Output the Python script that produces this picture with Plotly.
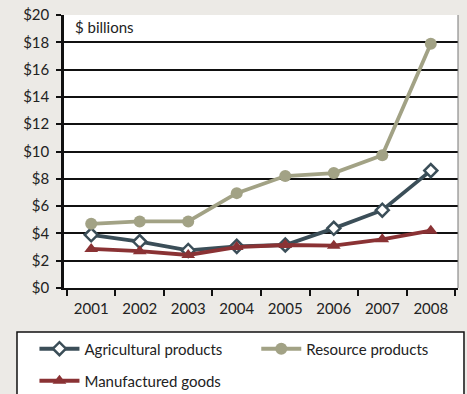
import plotly.graph_objects as go

years = ["2001", "2002", "2003", "2004", "2005", "2006", "2007", "2008"]
agricultural = [3.9, 3.4, 2.75, 3.05, 3.15, 4.37, 5.7, 8.6]
resource = [4.7, 4.88, 4.88, 6.95, 8.2, 8.42, 9.72, 17.9]
manufactured = [2.86, 2.7, 2.42, 3.0, 3.15, 3.1, 3.57, 4.2]
y_ticks = [0, 2, 4, 6, 8, 10, 12, 14, 16, 18, 20]
y_labels = ["$0", "$2", "$4", "$6", "$8", "$10", "$12", "$14", "$16", "$18", "$20"]

FONT = "Lato"
BG = "#ECEAE6"
TEXT = "#222222"

fig = go.Figure()
fig.add_trace(go.Scatter(
    x=years, y=agricultural, name="Agricultural products", mode="lines+markers",
    line=dict(color="#3B4E58", width=3.8),
    marker=dict(symbol="diamond", size=10, color="white",
                line=dict(color="#3B4E58", width=2.5)),
    legend="legend",
))
fig.add_trace(go.Scatter(
    x=years, y=resource, name="Resource products", mode="lines+markers",
    line=dict(color="#A2A285", width=3.8),
    marker=dict(symbol="circle", size=12, color="#A2A285"),
    legend="legend2",
))
fig.add_trace(go.Scatter(
    x=years, y=manufactured, name="Manufactured goods", mode="lines+markers",
    line=dict(color="#8A3234", width=3.8),
    marker=dict(symbol="triangle-up", size=12, color="#8A3234"),
    legend="legend3",
))

legend_common = dict(
    xanchor="left", yanchor="middle", bgcolor="rgba(0,0,0,0)",
    borderwidth=0, font=dict(family=FONT, size=15, color=TEXT),
    itemwidth=40,
)

fig.update_layout(
    width=467, height=394,
    margin=dict(l=64, r=9, t=15, b=106, autoexpand=False),
    paper_bgcolor=BG, plot_bgcolor="white",
    font=dict(family=FONT, size=15, color=TEXT),
    showlegend=True,
    legend=dict(x=-0.075, y=-0.2234, **legend_common),
    legend2=dict(x=0.488, y=-0.2234, **legend_common),
    legend3=dict(x=-0.075, y=-0.3407, **legend_common),
    annotations=[dict(
        text="$ billions", x=0.022, y=0.995, xref="paper", yref="paper",
        xanchor="left", yanchor="top", showarrow=False,
        font=dict(family=FONT, size=15, color=TEXT),
    )],
)

fig.update_xaxes(
    type="category", tickson="boundaries", ticks="outside", ticklen=6,
    tickwidth=2, tickcolor="#111111", ticklabelstandoff=6,
    showline=True, linecolor="#111111", linewidth=2,
    showgrid=False, mirror=False,
)
fig.update_yaxes(
    range=[0, 20], tickvals=y_ticks, ticktext=y_labels,
    ticks="outside", ticklen=5, tickwidth=2, tickcolor="#111111",
    ticklabelstandoff=4,
    showline=True, linecolor="#111111", linewidth=2.5,
    showgrid=True, gridcolor="#111111", gridwidth=2,
    zeroline=False,
)

# thin grey frame on the right side of the plot area
fig.add_shape(type="line", xref="paper", yref="paper", x0=1, x1=1, y0=0, y1=1,
              line=dict(color="#777777", width=1))
# white legend panel with a black border, running off the bottom edge
fig.add_shape(type="rect", xref="paper", yref="paper",
              x0=-0.1193, x1=1.0152, y0=-0.161, y1=-0.6,
              fillcolor="white", line=dict(color="#111111", width=1.5),
              layer="below")

fig.write_html("out.html")
